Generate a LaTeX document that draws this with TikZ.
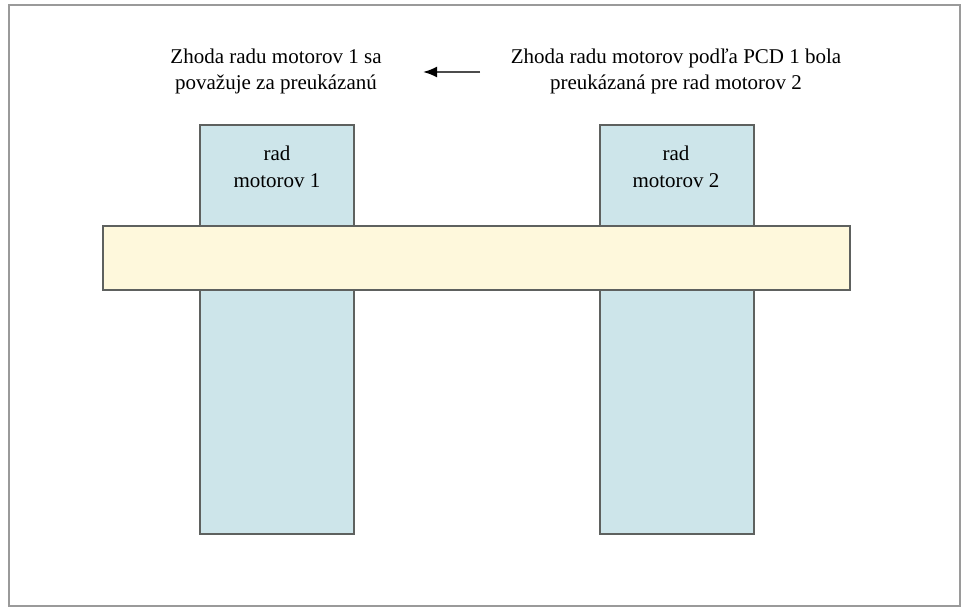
\documentclass[tikz,border=0pt]{standalone}
\usepackage{fontspec}
\setmainfont{Liberation Serif}
\usetikzlibrary{arrows.meta}
\definecolor{colblue}{HTML}{CDE5EA}
\definecolor{bandyellow}{HTML}{FEF8DC}
\definecolor{edgegray}{HTML}{5E615F}
\definecolor{framegray}{HTML}{9A9A9A}
\begin{document}
\begin{tikzpicture}[x=1pt,y=-1pt,
  colbox/.style={draw=edgegray,line width=1.6pt,fill=colblue},
  bandbox/.style={draw=edgegray,line width=1.6pt,fill=bandyellow},
  lbl/.style={font=\fontsize{21}{26}\selectfont,align=center,inner sep=0pt},
  boxlbl/.style={font=\fontsize{21}{27}\selectfont,align=center,inner sep=0pt}]
\useasboundingbox (0,0) rectangle (966,612);
\draw[framegray,line width=2.2pt] (9,5) rectangle (960,606);
% columns
\draw[colbox] (200,125) rectangle (354,534);
\draw[colbox] (600,125) rectangle (754,534);
% band
\draw[bandbox] (103,226) rectangle (850,290);
% labels
\node[boxlbl] (c1) at (277,167) {rad\\motorov 1};
\node[boxlbl] (c2) at (676,167) {rad\\motorov 2};
\node[lbl] (t1) at (276,71) {Zhoda radu motorov 1 sa\\považuje za preukázanú};
\node[lbl] (t2) at (676,71) {Zhoda radu motorov podľa PCD 1 bola\\preukázaná pre rad motorov 2};
\coordinate (as) at (480,72);
\coordinate (ae) at (423,72);
\draw[-{Latex[length=14pt,width=11pt,color=black]},line width=2pt,black!70] (as) -- (ae);
\end{tikzpicture}
\end{document}
